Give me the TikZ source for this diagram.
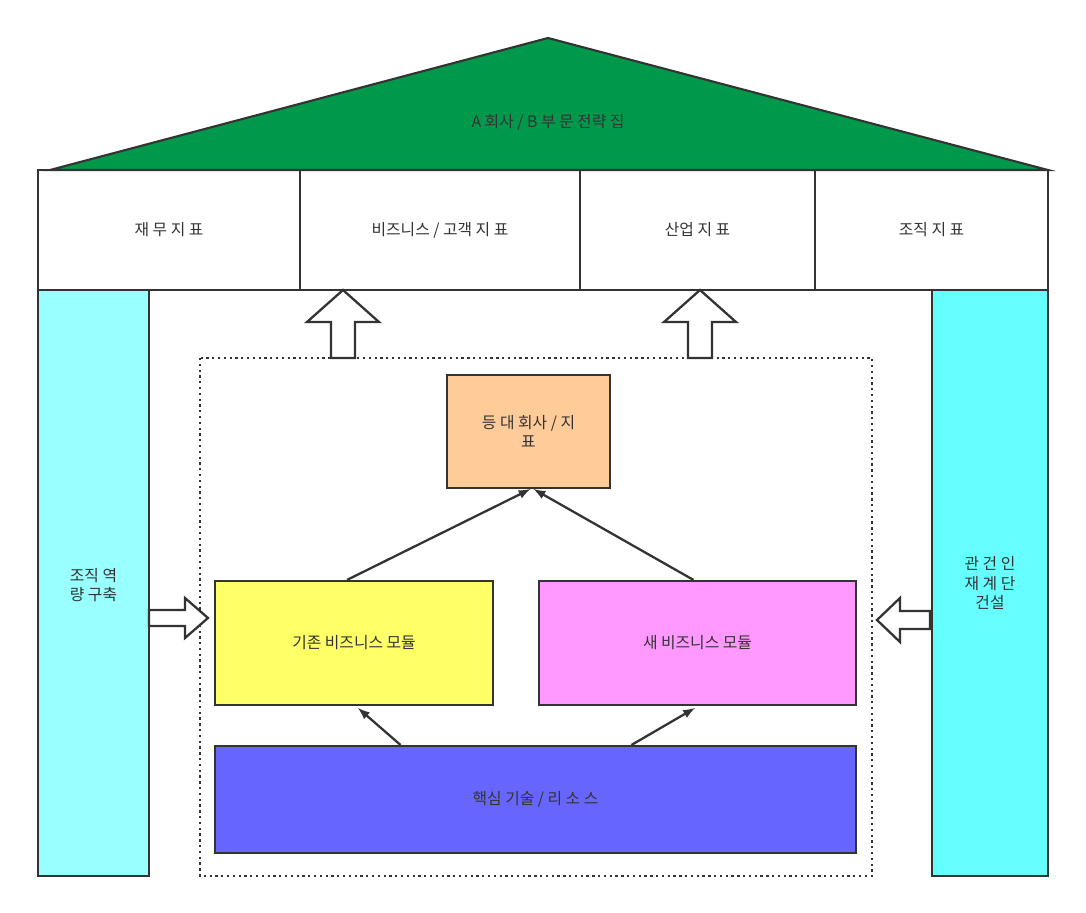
\documentclass[tikz,border=0pt]{standalone}
\usepackage{fontspec}
\setmainfont{Noto Sans CJK KR}
\usetikzlibrary{positioning}
\definecolor{roof}{RGB}{0,153,76}
\definecolor{pillarl}{RGB}{153,255,255}
\definecolor{pillarr}{RGB}{102,255,255}
\definecolor{peer}{RGB}{255,204,153}
\definecolor{oldmod}{RGB}{255,255,102}
\definecolor{newmod}{RGB}{255,153,255}
\definecolor{core}{RGB}{102,102,255}
\definecolor{ink}{RGB}{51,51,51}
\tikzset{
  box/.style={draw=ink, line width=1.2pt, text=ink, font=\small, inner sep=0pt},
  link/.style={draw=ink, line width=1.3pt, -latex},
  hollow/.style={draw=ink, line width=1.3pt, fill=white}
}
\begin{document}
\begin{tikzpicture}[x=0.02cm, y=-0.02cm]
  \useasboundingbox (0,0) rectangle (1086,913);
  % roof
  \draw[box, fill=roof] (50,170) -- (548,38) -- (1048,170) -- cycle;
  \node[text=ink, font=\small] (roofT) at (548,122) {A 회사 / B 부 문 전략 집};
  % indicator row
  \node[box, minimum width=262*0.02cm, minimum height=120*0.02cm] (fin) at (169,230) {재 무 지 표};
  \node[box, minimum width=280*0.02cm, minimum height=120*0.02cm] (biz) at (440,230) {비즈니스 / 고객 지 표};
  \node[box, minimum width=235*0.02cm, minimum height=120*0.02cm] (ind) at (697.5,230) {산업 지 표};
  \node[box, minimum width=233*0.02cm, minimum height=120*0.02cm] (org) at (931.5,230) {조직 지 표};
  % pillars
  \node[box, fill=pillarl, minimum width=111*0.02cm, minimum height=586*0.02cm, align=center] (lp) at (93.5,583) {};
  \node[text=ink, font=\small, align=center] at (93.5,585) {조직 역\\량 구축};
  \node[box, fill=pillarr, minimum width=116*0.02cm, minimum height=586*0.02cm] (rp) at (990,583) {};
  \node[text=ink, font=\small, align=center] at (990,583) {관 건 인\\재 계 단\\건설};
  % dotted frame
  \draw[ink, line width=1.3pt, dotted] (200,358) rectangle (872,876);
  % modules
  \node[box, fill=peer, minimum width=163*0.02cm, minimum height=113*0.02cm, align=center] (peerB) at (528.5,431.5) {등 대 회사 / 지\\표};
  \node[box, fill=oldmod, minimum width=278*0.02cm, minimum height=124*0.02cm] (oldB) at (354,643) {기존 비즈니스 모듈};
  \node[box, fill=newmod, minimum width=317*0.02cm, minimum height=124*0.02cm] (newB) at (697.5,643) {새 비즈니스 모듈};
  \node[box, fill=core, minimum width=641*0.02cm, minimum height=107*0.02cm] (coreB) at (535.5,799.5) {핵심 기술 / 리 소 스};
  % arrows
  \draw[link] ([xshift=-7*0.02cm]oldB.north) -- ([xshift=2*0.02cm]peerB.south);
  \draw[link] ([xshift=-4*0.02cm]newB.north) -- ([xshift=5*0.02cm]peerB.south);
  \draw[link] ([xshift=-135*0.02cm]coreB.north) -- (358,708);
  \draw[link] ([xshift=96*0.02cm]coreB.north) -- (695,708);
  % hollow arrows
  \foreach \cx in {343,700}
    \draw[hollow] (\cx-12,358) -- (\cx-12,322) -- (\cx-36,322) -- (\cx,290) -- (\cx+36,322) -- (\cx+12,322) -- (\cx+12,358) -- cycle;
  \draw[hollow] (149,610) -- (185,610) -- (185,598) -- (208,618) -- (185,638) -- (185,626) -- (149,626) -- cycle;
  \draw[hollow] (930,611) -- (900,611) -- (900,598) -- (877,620) -- (900,642) -- (900,629) -- (930,629) -- cycle;
\end{tikzpicture}
\end{document}
